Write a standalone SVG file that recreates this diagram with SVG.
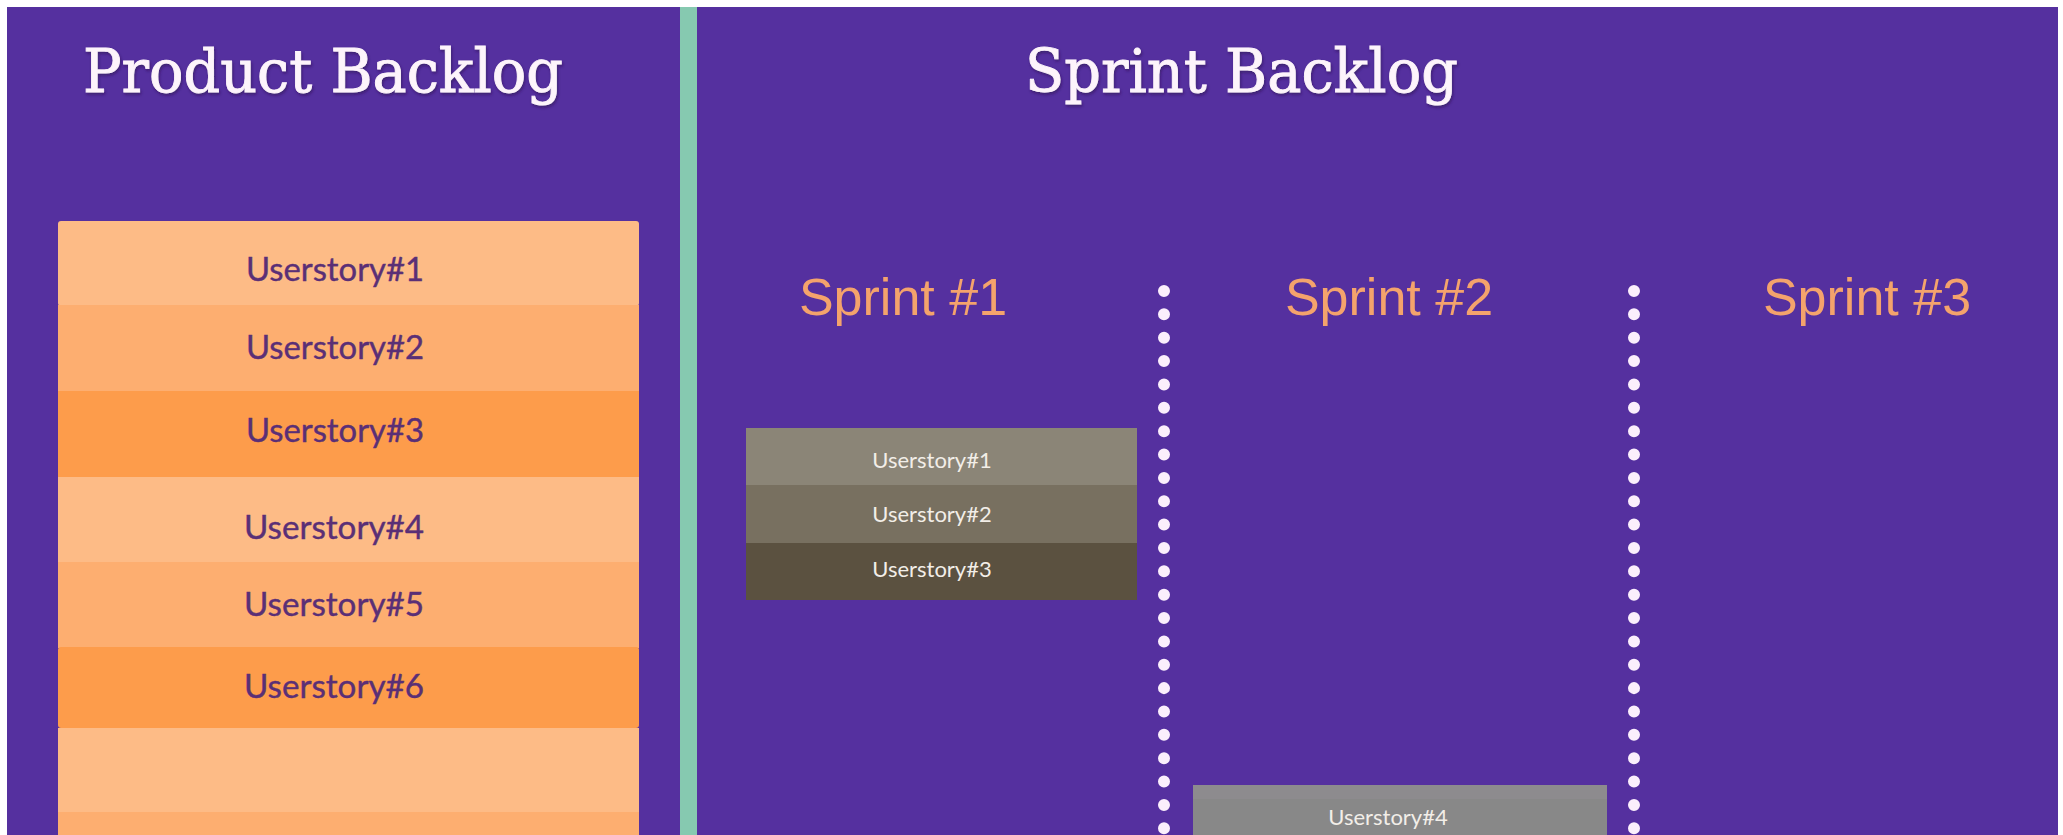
<svg xmlns="http://www.w3.org/2000/svg" width="2063" height="835" viewBox="0 0 2063 835">
<defs>
<style>
.title{font-family:"DejaVu Serif","Liberation Serif",serif;font-size:60px;fill:#fdf4fb;stroke:#fdf4fb;stroke-width:0.9px}
.sprint{font-family:"Liberation Sans",Arial,sans-serif;font-size:52px;fill:#f4a36c;text-anchor:middle}
.pb{font-family:Lato,"Open Sans",sans-serif;font-size:32px;fill:#5a2f76;stroke:#5a2f76;stroke-width:0.4px;text-anchor:middle}
.sb{font-family:Lato,"Open Sans",sans-serif;font-size:22px;fill:#f2eee8;text-anchor:middle}
.light{fill:#fdbb86}
.mid{fill:#fdae70}
.dark{fill:#fd9c4b}
.dots{stroke:#fbeffc;stroke-width:12;stroke-linecap:round;stroke-dasharray:0.01 23.35;fill:none}
</style>
<filter id="sh" x="-5%" y="-20%" width="110%" height="140%">
<feDropShadow dx="1" dy="2" stdDeviation="1.5" flood-color="#2a1050" flood-opacity="0.6"/>
</filter>
</defs>
<rect x="0" y="0" width="2063" height="835" fill="#ffffff"/>
<rect x="7" y="7" width="2051" height="828" fill="#55309f"/>
<rect x="680" y="7" width="17" height="828" fill="#86c9b0"/>

<g id="product-backlog-title">
<text class="title" x="83" y="92" textLength="480" lengthAdjust="spacingAndGlyphs" filter="url(#sh)">Product Backlog</text>
</g>
<g id="sprint-backlog-title">
<text class="title" x="1025" y="92" textLength="433" lengthAdjust="spacingAndGlyphs" filter="url(#sh)">Sprint Backlog</text>
</g>

<g id="product-backlog">
<rect class="light" x="58" y="221" width="581" height="85" rx="3"/>
<rect class="mid" x="58" y="305" width="581" height="87"/>
<rect class="dark" x="58" y="391" width="581" height="87"/>
<rect class="light" x="58" y="477" width="581" height="86"/>
<rect class="mid" x="58" y="562" width="581" height="86"/>
<rect class="dark" x="58" y="647" width="581" height="81" rx="3"/>
<rect class="light" x="58" y="728" width="581" height="85"/>
<rect class="mid" x="58" y="812" width="581" height="23"/>
<text class="pb" x="335" y="281" textLength="178" lengthAdjust="spacingAndGlyphs">Userstory#1</text>
<text class="pb" x="335" y="359" textLength="178" lengthAdjust="spacingAndGlyphs">Userstory#2</text>
<text class="pb" x="335" y="442" textLength="178" lengthAdjust="spacingAndGlyphs">Userstory#3</text>
<text class="pb" x="334" y="539" textLength="180" lengthAdjust="spacingAndGlyphs">Userstory#4</text>
<text class="pb" x="334" y="616" textLength="180" lengthAdjust="spacingAndGlyphs">Userstory#5</text>
<text class="pb" x="334" y="698" textLength="180" lengthAdjust="spacingAndGlyphs">Userstory#6</text>
</g>

<g id="sprint-1">
<text class="sprint" x="903" y="315">Sprint #1</text>
<rect x="746" y="428" width="391" height="58" fill="#8b8577"/>
<rect x="746" y="485" width="391" height="58" fill="#787060"/>
<rect x="746" y="543" width="391" height="57" fill="#5b5140"/>
<text class="sb" x="932" y="468">Userstory#1</text>
<text class="sb" x="932" y="522">Userstory#2</text>
<text class="sb" x="932" y="577">Userstory#3</text>
</g>

<g id="sprint-2">
<text class="sprint" x="1389" y="315">Sprint #2</text>
<rect x="1193" y="785" width="414" height="50" fill="#888888"/>
<rect x="1193" y="785" width="414" height="14" fill="#8d8b8e"/>
<text class="sb" x="1388" y="825">Userstory#4</text>
</g>

<g id="sprint-3">
<text class="sprint" x="1867" y="315">Sprint #3</text>
</g>

<g id="dividers">
<line class="dots" x1="1164" y1="291" x2="1164" y2="840"/>
<line class="dots" x1="1634" y1="291" x2="1634" y2="840"/>
</g>
</svg>
